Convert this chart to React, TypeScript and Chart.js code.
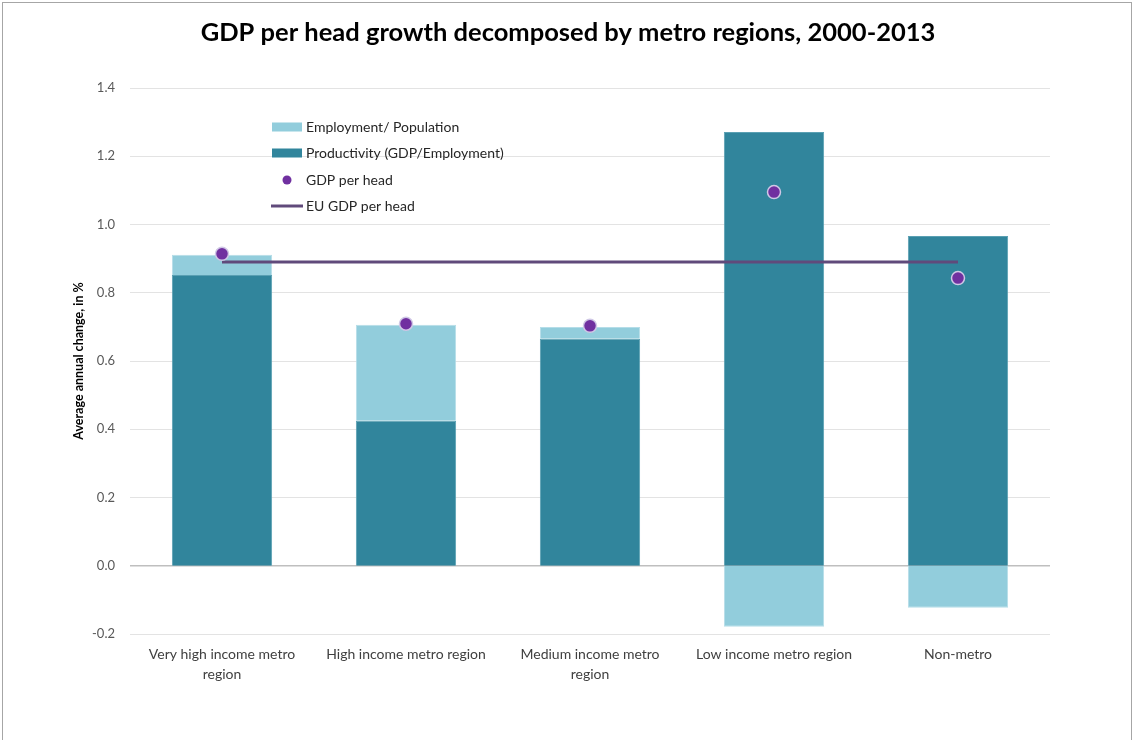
import { useEffect, useRef } from "react";
import { Chart, registerables } from "chart.js";

Chart.register(...registerables);

const chartTitle = "GDP per head growth decomposed by metro regions, 2000-2013";
const yAxisTitle = "Average annual change, in %";
const categories: (string | string[])[] = [
  ["Very high income metro", "region"],
  "High income metro region",
  ["Medium income metro", "region"],
  "Low income metro region",
  "Non-metro",
];
const productivity = [0.852, 0.425, 0.665, 1.271, 0.966];
const employment = [0.059, 0.281, 0.035, -0.179, -0.123];
const gdpPerHead = [0.914, 0.709, 0.703, 1.095, 0.843];
const euGdpPerHead = [0.89, 0.89, 0.89, 0.89, 0.89];
const legendLabels = [
  "Employment/ Population",
  "Productivity (GDP/Employment)",
  "GDP per head",
  "EU GDP per head",
];

const C_PROD = "#31859C";
const C_EMP = "#92CDDC";
const C_DOT = "#7030A0";
const C_LINE = "#604A7B";
const FONT = "Lato, 'Open Sans', sans-serif";

export default function App() {
  const ref = useRef<HTMLCanvasElement>(null);
  useEffect(() => {
    const decor = {
      id: "decor",
      afterDraw(chart: any) {
        const ctx = chart.ctx as CanvasRenderingContext2D;
        ctx.save();
        // border
        ctx.strokeStyle = "#a6a6a6";
        ctx.lineWidth = 1;
        ctx.strokeRect(2.5, 2.5, 1129, 800);
        // title
        ctx.fillStyle = "#000";
        ctx.font = `bold 25.5px ${FONT}`;
        ctx.textAlign = "center";
        ctx.textBaseline = "middle";
        ctx.fillText(chartTitle, 568, 33);
        // legend
        const rows = [127, 153, 180, 206];
        ctx.textAlign = "left";
        ctx.font = `14px ${FONT}`;
        ctx.fillStyle = C_EMP;
        ctx.fillRect(272, rows[0] - 4.5, 30, 9);
        ctx.fillStyle = C_PROD;
        ctx.fillRect(272, rows[1] - 4.5, 30, 9);
        ctx.fillStyle = C_DOT;
        ctx.beginPath();
        ctx.arc(287, rows[2], 4.5, 0, Math.PI * 2);
        ctx.fill();
        ctx.strokeStyle = C_LINE;
        ctx.lineWidth = 3;
        ctx.beginPath();
        ctx.moveTo(271, rows[3]);
        ctx.lineTo(303, rows[3]);
        ctx.stroke();
        ctx.fillStyle = "#262626";
        legendLabels.forEach((t, i) => ctx.fillText(t, 306, rows[i]));
        ctx.restore();
      },
    };

    const chart = new Chart(ref.current!, {
      data: {
        labels: categories,
        datasets: [
          {
            type: "line",
            label: legendLabels[2],
            data: gdpPerHead,
            showLine: false,
            pointRadius: 6.5,
            pointBackgroundColor: C_DOT,
            pointBorderColor: "#d0c8e6",
            pointBorderWidth: 1.5,
            stack: "dots",
            order: 0,
          },
          {
            type: "line",
            label: legendLabels[3],
            data: euGdpPerHead,
            borderColor: C_LINE,
            borderWidth: 3,
            pointRadius: 0,
            fill: false,
            stack: "eu",
            order: 1,
          },
          {
            type: "bar",
            label: legendLabels[1],
            data: productivity,
            backgroundColor: C_PROD,
            borderColor: "#5aa0b3",
            borderWidth: 1,
            barPercentage: 0.545,
            categoryPercentage: 1,
            stack: "s",
            order: 2,
          },
          {
            type: "bar",
            label: legendLabels[0],
            data: employment,
            backgroundColor: C_EMP,
            borderColor: "#b5dde8",
            borderWidth: 1,
            barPercentage: 0.545,
            categoryPercentage: 1,
            stack: "s",
            order: 2,
          },
        ],
      } as any,
      options: {
        animation: false,
        responsive: true,
        maintainAspectRatio: false,
        layout: { padding: { top: 88, right: 83, left: 0, bottom: 0 } },
        plugins: {
          legend: { display: false },
          title: { display: false },
          tooltip: { enabled: false },
        },
        scales: {
          x: {
            stacked: true,
            grid: { display: false, drawTicks: false },
            border: { display: false },
            ticks: {
              color: "#404040",
              font: { family: FONT, size: 14, lineHeight: 1.45 },
              padding: 10,
              maxRotation: 0,
              autoSkip: false,
            },
            afterFit(scale: any) {
              scale.height = 106;
            },
          },
          y: {
            stacked: true,
            min: -0.2,
            max: 1.4,
            ticks: {
              stepSize: 0.2,
              color: "#595959",
              font: { family: FONT, size: 13 },
              padding: 15,
              callback: (v: any) => {
                const n = Number(v);
                return Math.abs(n) < 1e-9 ? "0.0" : n.toFixed(1);
              },
            },
            grid: {
              drawTicks: false,
              color: (c: any) => (c.tick && Math.abs(c.tick.value) < 1e-9 ? "#bfbfbf" : "#e3e3e3"),
              lineWidth: (c: any) => (c.tick && Math.abs(c.tick.value) < 1e-9 ? 1.5 : 1),
            },
            border: { display: false },
            title: {
              display: true,
              text: yAxisTitle,
              color: "#000",
              font: { family: FONT, size: 12.5, weight: "bold" },
              padding: { top: 71, bottom: 0 },
            },
            afterFit(scale: any) {
              scale.width = 130;
            },
          },
        },
      } as any,
      plugins: [decor],
    });
    return () => chart.destroy();
  }, []);
  return (
    <div style={{ position: "absolute", left: 0, top: 0, width: 1133, height: 740, background: "#fff" }}>
      <canvas ref={ref} />
    </div>
  );
}
